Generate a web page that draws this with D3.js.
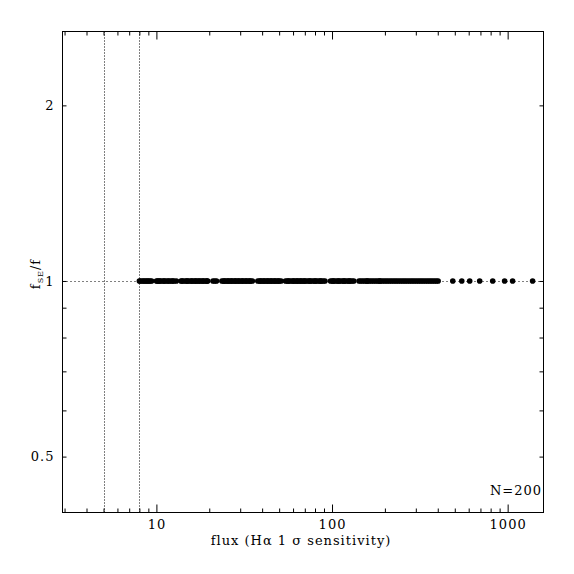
<!DOCTYPE html>
<html>
<head>
<meta charset="utf-8">
<script src="https://cdn.jsdelivr.net/npm/d3@7"></script>
<style>
  body { margin: 0; background: #fff; }
  svg text { font-family: "DejaVu Serif", "Liberation Serif", serif; fill: #000; letter-spacing: 1px; }
</style>
</head>
<body>
<div id="chart"></div>
<script>
// flux of each source (H-alpha 1 sigma sensitivity)
var flux = [
  8.0, 8.1, 8.3, 8.45, 8.6, 8.75, 8.9, 9.05, 9.2, 9.4,
  10.0, 10.15, 10.3, 10.45, 10.6, 10.9, 11.05, 11.2, 11.5, 11.7, 11.9, 12.2, 12.4, 12.6, 13.0,
  13.8, 14.0, 14.2, 14.6, 14.9, 15.0, 15.3, 15.7, 15.9, 16.1, 16.5, 16.7, 16.9, 17.3, 17.5,
  17.8, 18.2, 18.45, 18.7, 19.2, 19.4, 19.6,
  21.0, 21.5, 22.0,
  23.6, 24.1, 24.4, 24.7, 25.3, 25.6, 25.9, 26.5, 26.8, 27.1, 27.8, 28.1, 28.4, 29.1, 29.4,
  29.8, 30.5, 30.9, 31.2, 32.0, 32.4, 32.8, 33.6, 34.0, 34.4, 35.2,
  37.8, 38.7, 39.1, 39.6, 40.5, 41.0, 41.5, 42.5, 43.0, 43.5, 44.5, 45.0, 45.6, 46.7, 47.2,
  47.8, 48.9, 49.5, 50.1, 51.3,
  54.3, 55.6, 56.3, 57.0, 58.3, 59.7, 60.4, 61.1, 62.6, 63.3, 64.1, 65.6, 66.4, 67.2, 68.8,
  69.6, 70.4, 72.1, 73.8, 74.7, 75.6, 77.4, 79.2, 80.1, 81.1, 83.0, 85.0, 86.0, 87.0, 89.1, 91.2,
  98.0, 100.3, 101.5, 102.7, 105.2, 107.7, 109.0, 110.2, 112.9, 115.6, 117.0, 118.3, 121.1,
  124.0, 125.5, 127.0, 130.0, 133.1,
  142.5, 145.9, 149.4, 153.0, 156.6, 158.5, 160.4, 164.2, 168.1, 172.1, 176.2, 180.4, 184.7,
  186.9, 189.1, 193.6, 198.2, 203.0, 207.8, 212.8, 217.9, 223.1, 228.4, 233.8, 239.4, 245.1,
  251.0, 257.0, 263.1, 269.4, 275.8, 282.4, 289.1, 296.0, 303.1, 310.3, 317.7, 325.3, 333.1,
  341.0, 349.2, 357.5, 366.0, 374.8, 383.7, 392.9, 402.0,
  487, 548, 608, 693, 822, 961, 1067, 1387
];

// f_SE / f for each source -- all sit on 1
var ratio = [
  1,1,1,1,1,1,1,1,1,1, 1,1,1,1,1,1,1,1,1,1, 1,1,1,1,1,1,1,1,1,1, 1,1,1,1,1,1,1,1,1,1,
  1,1,1,1,1,1,1,1,1,1, 1,1,1,1,1,1,1,1,1,1, 1,1,1,1,1,1,1,1,1,1, 1,1,1,1,1,1,1,1,1,1,
  1,1,1,1,1,1,1,1,1,1, 1,1,1,1,1,1,1,1,1,1, 1,1,1,1,1,1,1,1,1,1, 1,1,1,1,1,1,1,1,1,1,
  1,1,1,1,1,1,1,1,1,1, 1,1,1,1,1,1,1,1,1,1, 1,1,1,1,1,1,1,1,1,1, 1,1,1,1,1,1,1,1,1,1,
  1,1,1,1,1,1,1,1,1,1, 1,1,1,1,1,1,1,1,1,1, 1,1,1,1,1,1,1,1,1,1, 1,1,1,1,1,1,1,1,1,1
];

// tick values
var xMajor = [10, 100, 1000];
var xMinor = [3, 4, 5, 6, 7, 8, 9, 20, 30, 40, 50, 60, 70, 80, 90, 200, 300, 400, 500, 600, 700, 800, 900];
var yLabelled = [0.5, 1, 2];
var yMinor = [0.6, 0.7, 0.8, 0.9];

// vertical sensitivity limits (dotted)
var limits = [5, 8];
var refLevel = [1];
var nLabel = "N=200";

var W = 574, H = 574;
// plot box edges (note: "top" is reserved on window, so use mTop etc.)
var mLeft = 62.5, mRight = 543.5, mTop = 31.5, mBottom = 512.5;
var fontSize = "13px";

var x = d3.scaleLog().domain([2.92, 1600]).range([mLeft, mRight]);
var y = d3.scaleLog().domain([0.401, 2.677]).range([mBottom, mTop]);

var svg = d3.select("#chart").append("svg")
    .attr("width", W)
    .attr("height", H);

// dotted guides
svg.selectAll(".vlim")
    .data(limits)
    .enter().append("line")
    .attr("x1", function(d) { return Math.round(x(d)) + 0.5; })
    .attr("x2", function(d) { return Math.round(x(d)) + 0.5; })
    .attr("y1", mTop)
    .attr("y2", mBottom)
    .attr("stroke", "#000")
    .attr("stroke-width", 1)
    .attr("stroke-dasharray", "1,2");

svg.selectAll(".href")
    .data(refLevel)
    .enter().append("line")
    .attr("x1", mLeft)
    .attr("x2", mRight)
    .attr("y1", function(d) { return Math.round(y(d)) + 0.5; })
    .attr("y2", function(d) { return Math.round(y(d)) + 0.5; })
    .attr("stroke", "#000")
    .attr("stroke-width", 1)
    .attr("stroke-dasharray", "1,3");

// axes: ticks point inward, like the original
function styleAxis(g) {
    g.select(".domain").remove();
    g.selectAll(".tick line").attr("stroke", "#000");
    g.selectAll(".tick text")
        .style("font-family", "DejaVu Serif, Liberation Serif, serif")
        .style("font-size", fontSize);
}

svg.append("g")
    .attr("transform", "translate(0," + mBottom + ")")
    .call(d3.axisBottom(x).tickValues(xMajor).tickSize(-8).tickPadding(7).tickFormat(d3.format("d")))
    .call(styleAxis);
svg.append("g")
    .attr("transform", "translate(0," + mBottom + ")")
    .call(d3.axisBottom(x).tickValues(xMinor).tickSize(-4).tickFormat(""))
    .call(styleAxis);
svg.append("g")
    .attr("transform", "translate(0," + mTop + ")")
    .call(d3.axisTop(x).tickValues(xMajor).tickSize(-8).tickFormat(""))
    .call(styleAxis);
svg.append("g")
    .attr("transform", "translate(0," + mTop + ")")
    .call(d3.axisTop(x).tickValues(xMinor).tickSize(-4).tickFormat(""))
    .call(styleAxis);

svg.append("g")
    .attr("transform", "translate(" + mLeft + ",0)")
    .call(d3.axisLeft(y).tickValues(yLabelled).tickSize(-4).tickPadding(8).tickFormat(d3.format("")))
    .call(styleAxis);
svg.append("g")
    .attr("transform", "translate(" + mLeft + ",0)")
    .call(d3.axisLeft(y).tickValues(yMinor).tickSize(-4).tickFormat(""))
    .call(styleAxis);
svg.append("g")
    .attr("transform", "translate(" + mRight + ",0)")
    .call(d3.axisRight(y).tickValues(yLabelled.concat(yMinor)).tickSize(-4).tickFormat(""))
    .call(styleAxis);

// frame
svg.append("rect")
    .attr("x", mLeft)
    .attr("y", mTop)
    .attr("width", mRight - mLeft)
    .attr("height", mBottom - mTop)
    .attr("fill", "none")
    .attr("stroke", "#000")
    .attr("stroke-width", 1);

// points
svg.selectAll(".pt")
    .data(flux)
    .enter().append("circle")
    .attr("cx", function(d) { return x(d); })
    .attr("cy", function(d, i) { return y(ratio[i]); })
    .attr("r", 2.8)
    .attr("fill", "#000");

// labels
svg.append("text")
    .attr("x", 301)
    .attr("y", 545)
    .attr("text-anchor", "middle")
    .style("font-size", fontSize)
    .text("flux (H\u03b1 1 \u03c3 sensitivity)");

var yl = svg.append("text")
    .attr("transform", "translate(40,274) rotate(-90)")
    .attr("text-anchor", "middle")
    .style("font-size", fontSize);
yl.append("tspan").text("f");
yl.append("tspan").attr("dy", 3).style("font-size", "8px").text("SE");
yl.append("tspan").attr("dy", -3).text("/f");

svg.append("text")
    .attr("x", 542)
    .attr("y", 494.5)
    .attr("text-anchor", "end")
    .style("font-size", fontSize)
    .text(nLabel);
</script>
</body>
</html>
